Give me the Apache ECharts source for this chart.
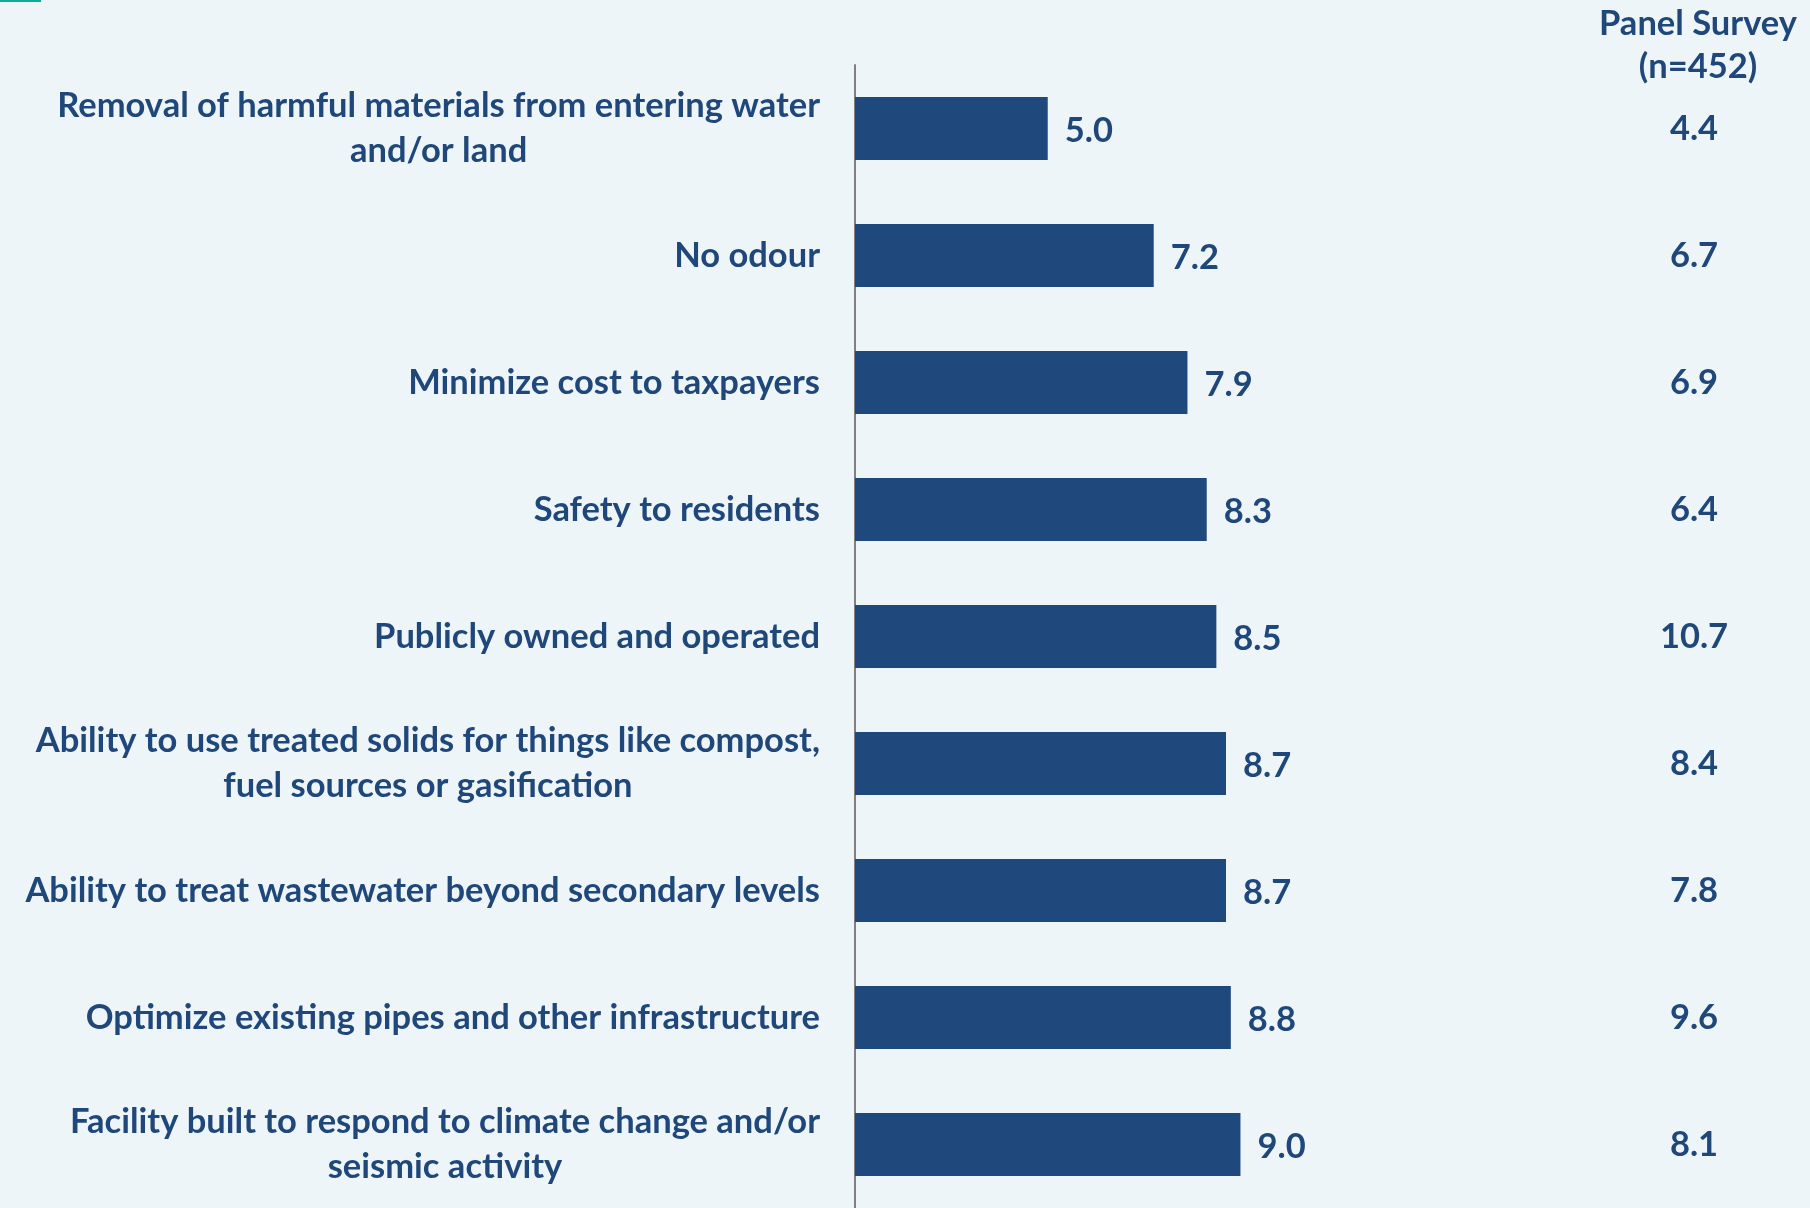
<!DOCTYPE html>
<html>
<head>
<meta charset="utf-8">
<script src="https://cdn.jsdelivr.net/npm/echarts@6/dist/echarts.min.js"></script>
<style>
html,body{margin:0;padding:0;background:#EEF5F9;}
#chart{width:1810px;height:1208px;}
</style>
</head>
<body>
<div id="chart"></div>
<script>
const categories = [
  "Removal of harmful materials from entering water\nand/or land",
  "No odour",
  "Minimize cost to taxpayers",
  "Safety to residents",
  "Publicly owned and operated",
  "Ability to use treated solids for things like compost,\nfuel sources or gasification",
  "Ability to treat wastewater beyond secondary levels",
  "Optimize existing pipes and other infrastructure",
  "Facility built to respond to climate change and/or\nseismic activity"
];
const mainValues = [5.0, 7.2, 7.9, 8.3, 8.5, 8.7, 8.7, 8.8, 9.0];
const panelValues = [4.4, 6.7, 6.9, 6.4, 10.7, 8.4, 7.8, 9.6, 8.1];
const panelHeader = "Panel Survey\n(n=452)";

const FONT = 'Lato';
const FS = 34.5;
const COLOR = '#1F477A';

const chart = echarts.init(document.getElementById('chart'));
chart.setOption({
  backgroundColor: '#EEF5F9',
  animation: false,
  grid: { left: 855, top: 65, height: 1145, right: 425, containLabel: false },
  xAxis: {
    type: 'value', min: 1, max: 12,
    axisLine: { show: false }, axisTick: { show: false },
    axisLabel: { show: false }, splitLine: { show: false }
  },
  yAxis: [
    {
      type: 'category', inverse: true, data: categories,
      axisLine: { show: true, lineStyle: { color: '#808080', width: 2 } },
      axisTick: { show: false },
      axisLabel: {
        margin: 35, align: 'right',
        formatter: function (v) {
          return v.split('\n').map(function (l) { return '{c|' + l + '}'; }).join('\n');
        },
        rich: { c: { align: 'center', fontFamily: FONT, fontWeight: 'bold', fontSize: FS, color: COLOR, lineHeight: 45 } }
      }
    },
    {
      type: 'category', inverse: true, data: categories, position: 'right',
      axisLine: { show: false }, axisTick: { show: false },
      axisLabel: {
        margin: 309, align: 'center', padding: [4, 0, 0, 0],
        fontFamily: FONT, fontWeight: 'bold', fontSize: FS, color: COLOR,
        formatter: function (v, i) { return panelValues[i].toFixed(1); }
      }
    }
  ],
  series: [{
    type: 'bar', yAxisIndex: 0, data: mainValues, barWidth: 63,
    itemStyle: { color: '#1F487C' },
    label: {
      show: true, position: 'right', distance: 17, offset: [0, 2],
      fontFamily: FONT, fontWeight: 'bold', fontSize: FS, color: COLOR,
      formatter: function (p) { return p.value.toFixed(1); }
    }
  }],
  graphic: [
    { type: 'rect', left: 0, top: 0, shape: { width: 41, height: 2 }, style: { fill: '#14A6A0' } },
    { type: 'text', x: 1698, y: 2, style: { text: panelHeader, textAlign: 'center', textVerticalAlign: 'top', fontFamily: FONT, fontWeight: 'bold', fontSize: FS, lineHeight: 43, fill: COLOR } }
  ]
});
</script>
</body>
</html>
